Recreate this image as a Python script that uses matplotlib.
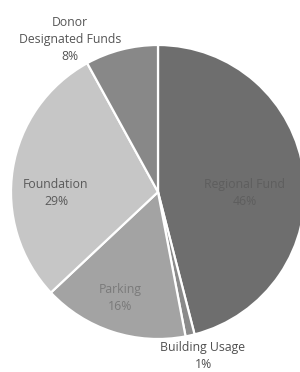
import matplotlib
matplotlib.use("Agg")
import matplotlib.pyplot as plt

categories = ["Regional Fund", "Building Usage", "Parking", "Foundation", "Donor\nDesignated Funds"]
values = [46, 1, 16, 29, 8]
colors = ["#6e6e6e", "#8a8a8a", "#a3a3a3", "#c6c6c6", "#888888"]
text_colors = ["#5e5e5e", "#505050", "#7a7a7a", "#5a5a5a", "#555555"]
# label positions in pixel coordinates (x, y from top)
label_pos = [(245, 193), (203, 356), (120, 298), (56, 193), (70, 40)]

W, H = 300, 372
fig = plt.figure(figsize=(W / 100, H / 100), dpi=100)
ax = fig.add_axes([0, 0, 1, 1])
ax.set_xlim(0, W)
ax.set_ylim(0, H)
ax.set_aspect("equal")
ax.axis("off")

cx, cy, r = 158, 192, 147
ax.pie(values, colors=colors, startangle=90, counterclock=False,
       center=(cx, H - cy), radius=r,
       wedgeprops=dict(edgecolor="white", linewidth=1.6))
ax.set_xlim(0, W)
ax.set_ylim(0, H)

for cat, v, (x, y), tc in zip(categories, values, label_pos, text_colors):
    ax.text(x, H - y, f"{cat}\n{v}%", ha="center", va="center",
            fontsize=8.8, color=tc, linespacing=1.4, family=["Open Sans", "DejaVu Sans"])

fig.savefig("out.png", dpi=100, facecolor="white")
